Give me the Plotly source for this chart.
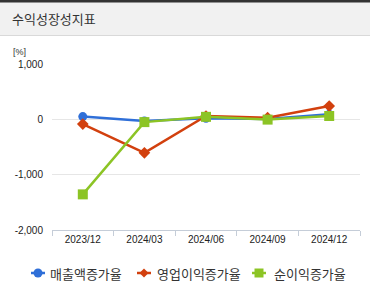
import plotly.graph_objects as go

categories = ["2023/12", "2024/03", "2024/06", "2024/09", "2024/12"]
sales_growth = [50, -30, 20, 5, 90]
op_growth = [-85, -605, 60, 30, 240]
net_growth = [-1356, -50, 45, -5, 60]
series_names = ["매출액증가율", "영업이익증가율", "순이익증가율"]
series_colors = ["#2f6fd8", "#d2400e", "#8cc425"]
y_ticks = [1000, 0, -1000, -2000]
y_tick_labels = ["1,000", "0", "-1,000", "-2,000"]

W, H = 370, 285
L, R, T, B = 52, 10, 64, 55
ph = H - T - B
pw = W - L - R

def py(p):
    return (H - B - p) / ph

def px(p):
    return (p - L) / pw

fig = go.Figure()
fig.add_trace(go.Scatter(x=categories, y=sales_growth, name=series_names[0], mode="lines+markers",
                         line=dict(color=series_colors[0], width=2.5),
                         marker=dict(symbol="circle", size=9, color=series_colors[0])))
fig.add_trace(go.Scatter(x=categories, y=op_growth, name=series_names[1], mode="lines+markers",
                         line=dict(color=series_colors[1], width=2.5),
                         marker=dict(symbol="diamond", size=9, color=series_colors[1])))
fig.add_trace(go.Scatter(x=categories, y=net_growth, name=series_names[2], mode="lines+markers",
                         line=dict(color=series_colors[2], width=2.5),
                         marker=dict(symbol="square", size=10, color=series_colors[2])))

shapes = [
    dict(type="rect", xref="paper", yref="paper", x0=px(0), x1=px(W), y0=py(35), y1=py(2),
         fillcolor="#f1f1f1", line=dict(width=0), layer="below"),
    dict(type="rect", xref="paper", yref="paper", x0=px(0), x1=px(W), y0=py(2.5), y1=py(0),
         fillcolor="#333333", line=dict(width=0), layer="below"),
    dict(type="line", xref="paper", yref="paper", x0=px(0), x1=px(W), y0=py(35.5), y1=py(35.5),
         line=dict(color="#d9d9d9", width=1)),
]

# custom legend
leg_y = 273
leg_marker_x = [38, 144, 259]
leg_text_x = [48, 155, 272]
annotations = [dict(text="[%]", xref="paper", yref="paper", x=px(11), y=py(52),
                    xanchor="left", yanchor="middle", showarrow=False,
                    font=dict(size=9, color="#333333", family="Liberation Sans"))]
for i, name in enumerate(series_names):
    c = series_colors[i]
    mx = leg_marker_x[i]
    shapes.append(dict(type="line", xref="paper", yref="paper", x0=px(mx - 7), x1=px(mx + 7),
                       y0=py(leg_y), y1=py(leg_y), line=dict(color=c, width=2.5)))
    if i == 0:
        shapes.append(dict(type="circle", xref="paper", yref="paper", x0=px(mx - 4.5), x1=px(mx + 4.5),
                           y0=py(leg_y + 4.5), y1=py(leg_y - 4.5), fillcolor=c, line=dict(width=0)))
    elif i == 1:
        path = "M {} {} L {} {} L {} {} L {} {} Z".format(
            px(mx), py(leg_y - 4.5), px(mx + 4.5), py(leg_y), px(mx), py(leg_y + 4.5), px(mx - 4.5), py(leg_y))
        shapes.append(dict(type="path", xref="paper", yref="paper", path=path, fillcolor=c, line=dict(width=0)))
    else:
        shapes.append(dict(type="rect", xref="paper", yref="paper", x0=px(mx - 4.5), x1=px(mx + 4.5),
                           y0=py(leg_y + 4.5), y1=py(leg_y - 4.5), fillcolor=c, line=dict(width=0)))
    annotations.append(dict(text=name, xref="paper", yref="paper", x=px(leg_text_x[i]), y=py(leg_y),
                            xanchor="left", yanchor="middle", showarrow=False,
                            font=dict(size=13, color="#333333", family="Noto Sans CJK KR")))

fig.update_layout(
    width=W, height=H,
    margin=dict(l=L, r=R, t=T, b=B, autoexpand=False),
    paper_bgcolor="white", plot_bgcolor="white",
    font=dict(family="Noto Sans CJK KR, Liberation Sans, sans-serif", color="#333333", size=10),
    title=dict(text="수익성장성지표", x=12 / W, xanchor="left", xref="container",
               y=1 - 19 / H, yanchor="middle", yref="container",
               font=dict(size=13, color="#333333", family="Noto Sans CJK KR")),
    showlegend=False,
    shapes=shapes,
    annotations=annotations,
)

fig.update_xaxes(type="category", tickson="boundaries", ticks="outside", ticklen=5,
                 tickcolor="#c5cdd8", showline=True, linecolor="#c5cdd8", linewidth=1,
                 showgrid=False, tickfont=dict(size=10, family="Liberation Sans", color="#222222"),
                 range=[-0.5, 4.5])
fig.update_yaxes(range=[-2000, 1000], tickvals=y_ticks, ticktext=y_tick_labels,
                 showgrid=True, gridcolor="#e6e6e6", gridwidth=1, zeroline=False,
                 showline=False, ticks="", ticklabelstandoff=8,
                 tickfont=dict(size=10, family="Liberation Sans", color="#222222"))

fig.write_html("out.html")
